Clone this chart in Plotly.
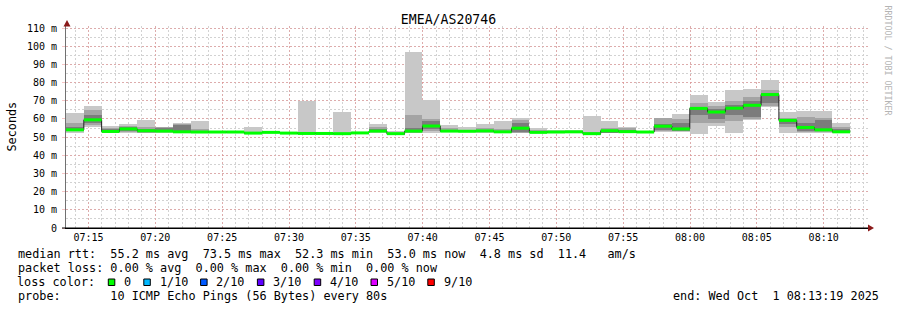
import plotly.graph_objects as go
import pandas as pd

# ---------------- data ----------------
title = "EMEA/AS20746"
start_time = "2025-10-01 07:13:19"
end_time = "2025-10-01 08:13:19"
step_seconds = 80

median = [54.0, 59.5, 53.1, 54.5, 53.5, 53.3, 52.9, 52.8, 52.8, 52.8,
          52.2, 52.6, 52.2, 52.0, 52.0, 51.9, 52.3, 53.3, 51.9, 53.3,
          56.1, 53.3, 53.2, 53.4, 52.9, 54.9, 52.6, 52.8, 52.9, 51.9,
          53.5, 53.0, 52.8, 56.0, 54.5, 65.8, 63.8, 65.9, 67.5, 73.4,
          59.2, 55.3, 54.0, 52.9]
smoke_min = [52.0, 55.5, 52.2, 52.3, 52.0, 52.5, 52.3, 52.4, 52.5, 52.5,
             51.8, 52.3, 51.9, 51.5, 51.7, 51.5, 52.0, 52.5, 51.3, 52.0,
             52.5, 52.7, 52.7, 52.4, 52.3, 52.0, 52.2, 52.4, 52.5, 51.3,
             52.0, 52.3, 52.5, 52.8, 52.6, 51.7, 56.0, 52.4, 59.5, 66.7,
             52.4, 52.2, 52.3, 52.2]
smoke_max = [63.5, 67.3, 56.0, 57.0, 59.6, 55.7, 58.0, 59.0, 53.0, 53.1,
             55.5, 52.9, 52.5, 69.7, 52.5, 64.0, 52.7, 57.2, 53.6, 97.0,
             70.4, 56.6, 55.4, 57.3, 58.8, 60.3, 54.8, 53.8, 53.8, 61.7,
             58.8, 55.7, 53.2, 60.6, 62.7, 73.1, 69.4, 75.9, 76.6, 81.4,
             64.0, 64.5, 64.5, 57.9]
smoke_lo2 = [53.5, 56.5, 52.5, 53.0, 52.5, 52.8, 52.5, 52.6, 52.6, 52.6,
             52.0, 52.4, 52.0, 51.8, 51.8, 51.7, 52.1, 53.0, 51.5, 52.5,
             53.5, 53.0, 52.9, 52.8, 52.5, 52.5, 52.4, 52.5, 52.6, 51.5,
             52.3, 52.5, 52.6, 53.2, 53.2, 57.5, 57.8, 59.0, 60.0, 67.0,
             55.5, 53.0, 52.8, 52.5]
smoke_hi2 = [57.5, 65.0, 55.0, 56.0, 55.5, 55.5, 57.0, 54.5, 52.9, 52.9,
             53.0, 52.8, 52.4, 53.0, 52.3, 52.5, 52.6, 55.5, 52.5, 62.2,
             60.0, 55.2, 54.0, 54.8, 54.5, 59.3, 54.0, 53.3, 53.4, 53.0,
             55.0, 54.8, 53.0, 60.5, 59.9, 68.5, 67.0, 70.0, 72.2, 76.0,
             60.5, 61.2, 60.3, 55.6]
smoke_lo3 = [53.2, 57.5, 53.0, 53.5, 53.0, 53.0, 52.8, 52.7, 52.7, 52.7,
             52.1, 52.5, 52.1, 51.9, 51.9, 51.8, 52.2, 53.2, 51.6, 52.8,
             54.5, 53.1, 53.0, 53.0, 52.6, 52.8, 52.5, 52.6, 52.7, 51.6,
             52.5, 52.7, 52.7, 54.0, 53.5, 62.0, 60.0, 62.0, 61.0, 69.0,
             57.0, 53.5, 53.2, 52.6]
smoke_hi3 = [55.5, 62.0, 54.3, 55.3, 54.5, 55.0, 56.5, 53.5, 52.9, 52.9,
             52.5, 52.7, 52.3, 52.3, 52.1, 52.1, 52.5, 54.5, 52.1, 55.0,
             58.8, 54.0, 53.5, 54.0, 53.5, 57.8, 53.2, 53.0, 53.1, 52.2,
             54.0, 53.8, 52.9, 57.0, 57.5, 66.0, 65.5, 67.5, 70.0, 74.5,
             59.5, 57.6, 59.5, 54.5]

y_tick_values = [0, 10, 20, 30, 40, 50, 60, 70, 80, 90, 100, 110]
y_tick_labels = ["0", "10 m", "20 m", "30 m", "40 m", "50 m", "60 m",
                 "70 m", "80 m", "90 m", "100 m", "110 m"]
x_tick_labels = ["07:15", "07:20", "07:25", "07:30", "07:35", "07:40",
                 "07:45", "07:50", "07:55", "08:00", "08:05", "08:10"]

legend_median = "median rtt:  55.2 ms avg  73.5 ms max  52.3 ms min  53.0 ms now  4.8 ms sd  11.4   am/s"
legend_loss = "packet loss: 0.00 % avg  0.00 % max  0.00 % min  0.00 % now"
legend_color_label = "loss color:"
loss_labels = ["0", "1/10", "2/10", "3/10", "4/10", "5/10", "9/10"]
loss_colors = ["#00ff00", "#00b8ff", "#0059ff", "#5e00ff", "#7e00ff", "#dd00ff", "#ff0000"]
legend_probe = "probe:       10 ICMP Echo Pings (56 Bytes) every 80s"
legend_end = "end: Wed Oct  1 08:13:19 2025"
watermark = "RRDTOOL / TOBI OETIKER"

# ---------------- geometry helpers ----------------
W, H = 897, 310
L, R, T, B = 66, 29, 26, 82
PW = W - L - R
PH = H - T - B
FONT = "DejaVu Sans Mono"


def px(x):
    return (x - L) / PW


def py(y):
    return (H - B - y) / PH


def nb(s):
    return s.replace(" ", "\u00a0")


n = len(median)
starts = pd.date_range(start_time, periods=n, freq=f"{step_seconds}s")
ends = starts + pd.Timedelta(seconds=step_seconds)
centers = starts + pd.Timedelta(seconds=step_seconds / 2)
width_ms = step_seconds * 1000

fig = go.Figure()

layers = [
    (smoke_min, smoke_max, "#c8c8c8"),
    (smoke_lo2, smoke_hi2, "#a4a4a4"),
    (smoke_lo3, smoke_hi3, "#7c7c7c"),
]
for lo, hi, col in layers:
    fig.add_trace(go.Bar(
        x=list(centers), base=lo, y=[h - l for l, h in zip(lo, hi)],
        width=[width_ms] * n, marker=dict(color=col, line=dict(width=0)),
        hoverinfo="skip", showlegend=False))

# median black step line
fig.add_trace(go.Scatter(
    x=list(starts) + [ends[-1]], y=median + [median[-1]],
    mode="lines", line=dict(color="#202020", width=1, shape="hv"),
    hoverinfo="skip", showlegend=False))

# green loss-colored median band
gx, gy = [], []
for s, e, m in zip(starts, ends, median):
    gx += [s, e, None]
    gy += [m, m, None]
fig.add_trace(go.Scatter(
    x=gx, y=gy, mode="lines", line=dict(color="#00ff00", width=3),
    hoverinfo="skip", showlegend=False, connectgaps=False))

tick_dates = [pd.Timestamp("2025-10-01 " + t) for t in x_tick_labels]

major_grid = "rgba(235,120,120,0.42)"
minor_grid = "#d2d2d2"

fig.update_layout(
    width=W, height=H, autosize=False,
    margin=dict(l=L, r=R, t=T, b=B, pad=0),
    paper_bgcolor="white", plot_bgcolor="white",
    barmode="overlay", bargap=0,
    showlegend=False,
    font=dict(family=FONT, color="#000000"),
    title=dict(text=title, x=0.5, xref="container", y=1 - 19 / H,
               yref="container", yanchor="middle", xanchor="center",
               font=dict(family=FONT, size=13.2, color="#000000")),
    xaxis=dict(
        type="date", range=[start_time, end_time],
        tickvals=tick_dates, ticktext=x_tick_labels,
        tickfont=dict(family=FONT, size=10, color="#000000"),
        showgrid=True, gridcolor=major_grid, griddash="2px,2px", gridwidth=1,
        minor=dict(dtick=60000, showgrid=True, gridcolor=minor_grid,
                   griddash="2px,2px", gridwidth=1),
        showline=True, linecolor="#000000", linewidth=1,
        ticks="", zeroline=False, fixedrange=True,
    ),
    yaxis=dict(
        range=[0, (H - B - T) / 18.18 * 10],
        tickvals=y_tick_values, ticktext=y_tick_labels,
        tickfont=dict(family=FONT, size=10, color="#000000"),
        showgrid=True, gridcolor=major_grid, griddash="2px,2px", gridwidth=1,
        minor=dict(dtick=5, showgrid=True, gridcolor=minor_grid,
                   griddash="2px,2px", gridwidth=1),
        showline=True, linecolor="#707070", linewidth=1,
        ticks="outside", ticklen=3, tickcolor=major_grid,
        ticklabelstandoff=3,
        zeroline=False, fixedrange=True,
    ),
)

annotations = []
# y-axis title
annotations.append(dict(text="Seconds", x=px(11.5), y=py(127), xref="paper",
                         yref="paper", showarrow=False, textangle=-90,
                         xanchor="center", yanchor="middle",
                         font=dict(family=FONT, size=11.8, color="#000000")))
# watermark
annotations.append(dict(text=nb(watermark), x=px(887.5), y=py(60), xref="paper",
                        yref="paper", showarrow=False, textangle=90,
                        xanchor="center", yanchor="middle",
                        font=dict(family=FONT, size=8.3, color="#b4b4b4")))
# legend lines
LEG = 11.8
CW = 7.1
x0 = 15.5
for txt, yy in [(legend_median, 254.5), (legend_loss, 268.3),
                (legend_color_label, 282.3), (legend_probe, 296)]:
    annotations.append(dict(text=nb(txt), x=px(x0), y=py(yy), xref="paper",
                            yref="paper", showarrow=False, xanchor="left",
                            yanchor="middle",
                            font=dict(family=FONT, size=LEG, color="#000000")))
annotations.append(dict(text=nb(legend_end), x=px(881), y=py(296), xref="paper",
                        yref="paper", showarrow=False, xanchor="right",
                        yanchor="middle",
                        font=dict(family=FONT, size=LEG, color="#000000")))

shapes = []
col_idx = 13
for lab, col in zip(loss_labels, loss_colors):
    sx = 16 + col_idx * CW
    shapes.append(dict(type="rect", xref="paper", yref="paper",
                       x0=px(sx), x1=px(sx + 6.5), y0=py(285.5), y1=py(279),
                       fillcolor=col, line=dict(color="#000000", width=1)))
    annotations.append(dict(text=nb(lab), x=px(x0 + (col_idx + 2) * CW),
                            y=py(282.3), xref="paper", yref="paper",
                            showarrow=False, xanchor="left", yanchor="middle",
                            font=dict(family=FONT, size=LEG, color="#000000")))
    col_idx += 2 + len(lab) + 2

# axis arrows
arrow_col = "#8b1a1a"
shapes.append(dict(type="path", xref="paper", yref="paper",
                   path=f"M {px(63.5)} {py(26.5)} L {px(70.5)} {py(26.5)} L {px(67)} {py(20)} Z",
                   fillcolor=arrow_col, line=dict(color=arrow_col, width=0)))
shapes.append(dict(type="path", xref="paper", yref="paper",
                   path=f"M {px(868)} {py(224.5)} L {px(868)} {py(231.5)} L {px(874)} {py(228)} Z",
                   fillcolor=arrow_col, line=dict(color=arrow_col, width=0)))
shapes.append(dict(type="line", xref="paper", yref="paper",
                   x0=px(62), x1=px(868), y0=0, y1=0,
                   line=dict(color="#000000", width=1)))

fig.update_layout(annotations=annotations, shapes=shapes)

fig.write_html("out.html")
